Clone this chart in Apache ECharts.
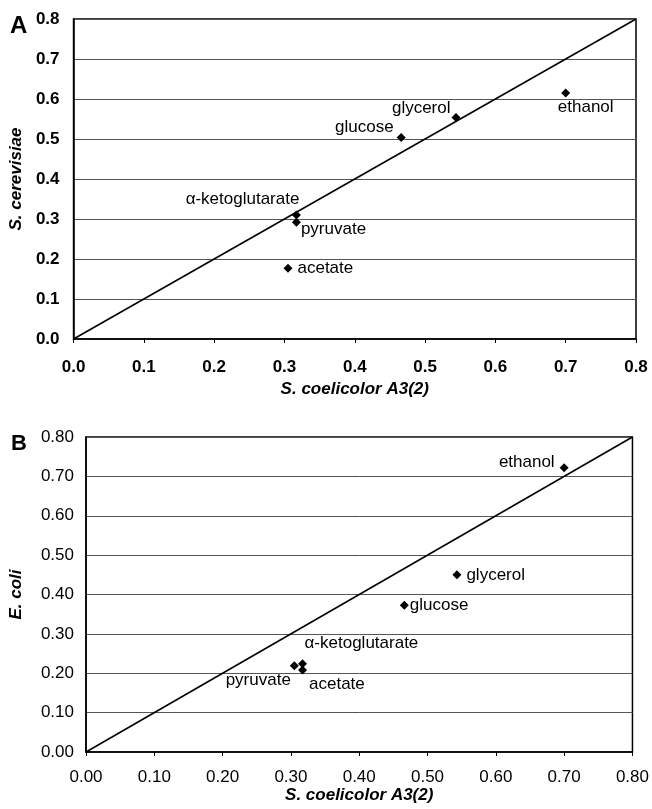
<!DOCTYPE html>
<html>
<head>
<meta charset="utf-8">
<script src="https://cdn.jsdelivr.net/npm/echarts@6/dist/echarts.min.js"></script>
<style>
html,body{margin:0;padding:0;background:#fff;}
#chart{width:652px;height:809px;}
</style>
</head>
<body>
<div id="chart"></div>
<script>
// ---- data ----
const compounds = ['ethanol', 'glycerol', 'glucose', 'α-ketoglutarate', 'pyruvate', 'acetate'];
const coelicolorA = [0.700, 0.544, 0.466, 0.317, 0.317, 0.305];
const cerevisiae  = [0.615, 0.554, 0.504, 0.310, 0.292, 0.177];
const coelicolorB = [0.700, 0.543, 0.466, 0.317, 0.305, 0.317];
const ecoli       = [0.722, 0.450, 0.373, 0.224, 0.219, 0.208];
const identityRange = [0, 0.8];
const axisTicks = [0, 0.1, 0.2, 0.3, 0.4, 0.5, 0.6, 0.7, 0.8];

// ---- label placement (style only) ----
const labelA = {
  'ethanol':         {position: 'bottom', distance: 1, offset: [20, 0]},
  'glycerol':        {position: 'left', offset: [4, -9]},
  'glucose':         {position: 'left', offset: [2, -10]},
  'α-ketoglutarate': {position: 'top', align: 'right', offset: [3, 2]},
  'pyruvate':        {position: 'right', distance: 0, offset: [0, 7]},
  'acetate':         {position: 'right', distance: 5}
};
const labelB = {
  'ethanol':         {position: 'left', offset: [0, -5]},
  'glycerol':        {position: 'right', distance: 5},
  'glucose':         {position: 'right', distance: 1},
  'α-ketoglutarate': {position: 'top', align: 'left', offset: [2, -2]},
  'pyruvate':        {position: 'left', offset: [6, 15]},
  'acetate':         {position: 'right', distance: 2, offset: [0, 14]}
};

const FONT = '"Liberation Sans", Arial, sans-serif';

function points(xs, ys, labels) {
  return compounds.map((n, i) => ({
    value: [xs[i], ys[i]],
    name: n,
    label: Object.assign({show: true, formatter: n, color: '#000'}, labels[n])
  }));
}
const idLine = identityRange.map(v => [v, v]);

function xAx(grid, decimals, bold, fs, margin, nameGap) {
  return {
    gridIndex: grid, type: 'value', min: axisTicks[0], max: axisTicks[axisTicks.length - 1], interval: 0.1,
    name: 'S. coelicolor A3(2)', nameLocation: 'middle', nameGap: nameGap,
    nameTextStyle: {fontFamily: FONT, fontWeight: 'bold', fontStyle: 'italic', fontSize: 17, color: '#000'},
    axisLine: {show: true, onZero: false, lineStyle: {color: '#000', width: 1.5}},
    axisTick: {show: true, length: 4, lineStyle: {color: '#000'}},
    axisLabel: {fontFamily: FONT, fontSize: fs, fontWeight: bold ? 'bold' : 'normal', color: '#000', margin: margin,
      formatter: v => v.toFixed(decimals)},
    splitLine: {show: false}
  };
}
function yAx(grid, decimals, bold, fs, margin, name, nameGap) {
  return {
    gridIndex: grid, type: 'value', min: axisTicks[0], max: axisTicks[axisTicks.length - 1], interval: 0.1,
    name: name, nameLocation: 'middle', nameGap: nameGap,
    nameTextStyle: {fontFamily: FONT, fontWeight: 'bold', fontStyle: 'italic', fontSize: 17, color: '#000'},
    axisLine: {show: true, onZero: false, lineStyle: {color: '#000', width: 1.5}},
    axisTick: {show: false},
    axisLabel: {fontFamily: FONT, fontSize: fs, fontWeight: bold ? 'bold' : 'normal', color: '#000', margin: margin,
      formatter: v => v.toFixed(decimals)},
    splitLine: {show: true, lineStyle: {color: '#555', width: 1}}
  };
}

const labelText = {fontFamily: FONT, fontSize: 17, color: '#000'};

const chart = echarts.init(document.getElementById('chart'), null, {renderer: 'canvas'});
chart.setOption({
  animation: false,
  backgroundColor: '#fff',
  title: [
    {text: 'A', left: 5, top: 9, textStyle: {fontFamily: FONT, fontSize: 24, fontWeight: 'bold', color: '#000'}},
    {text: 'B', left: 6, top: 428, textStyle: {fontFamily: FONT, fontSize: 22, fontWeight: 'bold', color: '#000'}}
  ],
  grid: [
    {left: 70, top: 19, width: 566, height: 320, show: true, borderColor: '#000', borderWidth: 1.5},
    {left: 84, top: 437, width: 550, height: 315, show: true, borderColor: '#000', borderWidth: 1.5}
  ],
  xAxis: [xAx(0, 1, true, 17, 20, 42), xAx(1, 2, false, 17, 17, 35)],
  yAxis: [yAx(0, 1, true, 17, 14, 'S. cerevisiae', 47), yAx(1, 2, false, 17, 12, 'E. coli', 61)],
  series: [
    {type: 'line', xAxisIndex: 0, yAxisIndex: 0, data: idLine, symbol: 'none',
      lineStyle: {color: '#000', width: 1.6}, silent: true},
    {type: 'scatter', xAxisIndex: 0, yAxisIndex: 0, symbol: 'diamond', symbolSize: 9,
      itemStyle: {color: '#000', opacity: 1}, label: labelText, data: points(coelicolorA, cerevisiae, labelA)},
    {type: 'line', xAxisIndex: 1, yAxisIndex: 1, data: idLine, symbol: 'none',
      lineStyle: {color: '#000', width: 1.6}, silent: true},
    {type: 'scatter', xAxisIndex: 1, yAxisIndex: 1, symbol: 'diamond', symbolSize: 9,
      itemStyle: {color: '#000', opacity: 1}, label: labelText, data: points(coelicolorB, ecoli, labelB)}
  ]
});
</script>
</body>
</html>
